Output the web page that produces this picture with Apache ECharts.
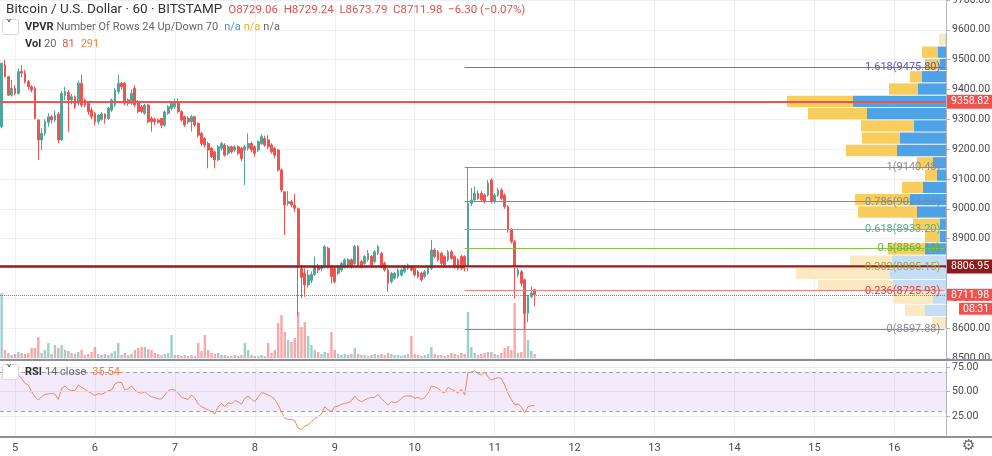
<!DOCTYPE html>
<html><head><meta charset="utf-8">
<script src="https://cdn.jsdelivr.net/npm/echarts@6/dist/echarts.min.js"></script>
<style>html,body{margin:0;padding:0;background:#fff}#c{width:992px;height:456px}</style>
</head><body><div id="c"></div>
<script>
// ---- time slots (hourly, starting 4th 20:00) ----
const startDay = 4, startHour = 20, totalSlots = 284;

// ---- OHLC (hourly) ----
const opens = [9275,9482,9443,9381,9404,9387,9460,9455,9426,9409,
9404,9298,9231,9253,9290,9309,9298,9318,9231,9380,
9390,9365,9376,9354,9421,9365,9354,9331,9320,9292,
9300,9318,9303,9331,9348,9393,9421,9421,9365,9354,
9404,9359,9342,9320,9348,9303,9300,9298,9303,9280,
9320,9337,9342,9354,9326,9309,9303,9292,9309,9286,
9253,9236,9219,9203,9191,9164,9203,9214,9186,9208,
9197,9208,9203,9197,9203,9219,9208,9197,9219,9236,
9231,9214,9203,9197,9130,9057,9018,9024,9013,9000,
8800,8784,8745,8760,8780,8806,8800,8806,8868,8806,
8801,8784,8795,8806,8806,8829,8817,8873,8823,8817,
8829,8840,8823,8851,8851,8817,8795,8756,8767,8773,
8778,8790,8801,8806,8801,8789,8784,8773,8784,8801,
8862,8856,8851,8840,8829,8856,8840,8829,8840,8840,
8806,9018,9030,9052,9052,9046,9046,9097,9024,9046,
9063,9046,9007,8929,8890,8778,8789,8762,8650,8706,
8729.06];
const closes = [9488,9443,9381,9404,9387,9460,9455,9426,9409,9398,
9303,9231,9253,9292,9309,9298,9314,9231,9387,9393,
9365,9376,9342,9421,9348,9348,9326,9309,9292,9314,
9318,9303,9337,9365,9398,9421,9409,9354,9354,9387,
9348,9326,9326,9348,9292,9292,9292,9290,9280,9325,
9342,9354,9354,9326,9298,9281,9292,9309,9281,9247,
9219,9214,9197,9175,9164,9208,9219,9180,9208,9191,
9208,9186,9169,9208,9219,9197,9186,9225,9242,9214,
9208,9191,9180,9130,9063,9013,9024,9013,9002,8812,
8770,8745,8778,8780,8806,8795,8806,8873,8806,8773,
8756,8806,8817,8829,8829,8806,8873,8812,8806,8840,
8851,8812,8856,8873,8806,8795,8750,8784,8784,8795,
8795,8806,8812,8795,8778,8773,8762,8789,8801,8862,
8840,8829,8817,8812,8856,8834,8806,8801,8801,8801,
9018,9030,9052,9035,9030,9024,9086,9024,9046,9063,
9035,9007,8929,8890,8806,8795,8750,8650,8706,8718.28,
8711.98];
const highs = [9490,9499,9445,9432,9415,9470,9482,9465,9432,9415,
9410,9300,9270,9300,9320,9314,9330,9325,9395,9409,
9398,9385,9380,9430,9449,9370,9360,9340,9325,9318,
9325,9320,9342,9370,9405,9449,9425,9425,9370,9400,
9415,9365,9348,9352,9352,9310,9305,9303,9305,9330,
9348,9360,9370,9370,9330,9312,9310,9315,9312,9290,
9258,9240,9225,9208,9195,9215,9225,9220,9214,9212,
9213,9213,9208,9215,9253,9225,9212,9230,9250,9245,
9247,9220,9208,9200,9135,9060,9060,9030,9050,9005,
8812,8800,8795,8790,8840,8815,8812,8879,8873,8812,
8806,8812,8823,8834,8835,8834,8879,8878,8829,8845,
8862,8845,8862,8879,8856,8823,8801,8789,8789,8800,
8800,8812,8817,8812,8806,8795,8789,8795,8806,8896,
8868,8862,8856,8845,8862,8862,8845,8834,8845,8845,
9140.48,9070,9075,9060,9060,9052,9097,9102,9052,9070,
9070,9052,9013,8935,8896,8812,8795,8767,8712,8740,
8729.24];
const lows = [9270,9440,9378,9376,9381,9383,9440,9420,9400,9390,
9300,9164,9197,9245,9275,9286,9290,9220,9228,9365,
9259,9350,9335,9345,9340,9340,9315,9300,9280,9283,
9295,9285,9298,9325,9342,9385,9400,9348,9345,9348,
9342,9320,9320,9315,9286,9259,9280,9285,9270,9275,
9315,9330,9335,9320,9292,9275,9285,9259,9275,9240,
9210,9205,9136,9170,9136,9160,9195,9175,9180,9185,
9190,9180,9160,9080,9195,9190,9175,9190,9215,9208,
9200,9185,9170,9125,9055,8912,9010,9005,8990,8640,
8700,8705,8735,8750,8775,8785,8790,8800,8800,8750,
8750,8778,8789,8800,8801,8800,8812,8806,8800,8812,
8823,8806,8817,8845,8801,8789,8722,8750,8762,8767,
8773,8784,8795,8790,8773,8767,8756,8767,8778,8795,
8834,8823,8812,8806,8823,8829,8800,8795,8795,8790,
8790,9010,9025,9030,9025,9018,9040,9018,9018,9040,
9030,9000,8920,8884,8700,8770,8740,8597.88,8620,8700,
8673.79];

// ---- volume (BTC) ----
const volumes = [1300,160,100,60,80,120,100,80,100,200,
200,420,100,160,300,80,260,200,260,160,
140,100,80,120,160,60,80,120,220,80,
60,80,60,100,140,300,60,100,60,80,
160,200,220,220,180,160,100,80,60,80,
100,460,60,60,40,60,40,60,40,300,
140,460,160,100,80,100,60,60,40,40,
60,40,60,300,160,60,40,40,60,40,
300,100,160,700,860,520,360,320,400,920,
620,720,440,260,160,120,80,120,100,520,
160,80,60,80,60,80,200,80,60,60,
40,60,80,60,80,60,100,80,60,60,
40,60,80,440,80,60,40,60,80,220,
80,60,60,40,60,100,80,60,100,80,
920,220,100,60,80,100,120,120,80,60,
100,200,240,160,1100,100,120,1000,360,140,
81];

// ---- RSI 14 ----
const rsi = [72.6,66.8,61.7,65.1,61.7,66.8,63.4,58.3,56.6,49.8,
44.7,41.3,44.7,47.1,47.4,48.1,47.4,42.0,53.2,55.6,
52.2,50.9,50.9,56.6,54.3,52.2,49.8,48.1,45.8,48.1,
47.1,48.8,50.9,51.5,57.7,59.7,59.0,51.5,52.9,55.6,
51.5,49.2,48.1,49.8,46.4,44.7,43.7,42.4,42.4,46.4,
50.9,52.2,51.5,48.1,44.0,43.0,42.0,46.4,43.0,37.3,
34.5,32.8,31.1,29.4,27.0,34.5,37.9,34.5,38.6,37.3,
40.7,39.6,36.9,43.0,45.4,42.0,39.6,44.7,48.8,48.1,
46.4,44.7,42.0,36.2,29.4,22.6,21.6,21.6,20.3,12.4,
11.4,14.8,15.8,19.2,22.6,24.3,27.0,34.5,31.1,29.4,
34.5,35.2,36.9,37.9,38.6,40.7,45.4,41.3,39.6,41.3,
43.0,44.0,44.0,47.1,42.4,39.6,36.2,39.6,38.6,39.6,
43.0,45.4,45.4,45.4,43.0,44.0,42.0,44.0,48.1,55.6,
54.9,53.2,49.8,48.8,54.3,52.2,50.9,48.1,52.2,46.4,
69.2,69.9,70.9,68.5,66.8,69.9,65.1,61.7,63.1,64.1,
63.4,56.6,48.1,42.0,36.2,37.3,34.5,28.4,34.5,35.5,
35.54];
const rsiTicks = [25, 50, 75];
const rsiBands = [30, 70];

// ---- price axis ----
const priceMin = 8500, priceMax = 9700, priceStep = 100;

// ---- fibonacci retracement ----
const fibStartSlot = 139;
const fibValues = [8597.88, 8725.93, 8805.15, 8869.18, 8933.20, 9024.36, 9140.48, 9475.80];
const fibNames  = ['0(8597.88)','0.236(8725.93)','0.382(8805.15)','0.5(8869.18)','0.618(8933.20)','0.786(9024.36)','1(9140.48)','1.618(9475.80)'];
const fibLineColors  = ['#8a8d96','#ef7f7b','#c9a23a','#8bc34a','#6cc08e','#4f97d6','#8a8d96','#6a6fd0'];
const fibLabelColors = ['#8a8d96','#e0403a','#a5a534','#6ab22e','#4cb487','#6a8fb5','#8a8d96','#5558c4'];

// ---- horizontal levels ----
const resistance = 9358.82, support = 8806.95, lastPrice = 8711.98, countdown = '08:31';

// ---- volume profile (24 rows, up / down volume) ----
const vpLow = 8597.88, vpHigh = 9587, vpRows = 24;
const vpUp   = [20,420,260,1060,1120,1080,420,120,120,580,720,460,180,260,980,920,640,1580,1860,560,480,120,160,20];
const vpDown = [260,400,800,1500,1880,840,740,300,540,1180,1100,420,240,320,1020,760,1060,1180,1320,580,240,300,320,120];
const vpOutside = [1,1,1,1,1,1,0,0,0,0,0,0,0,0,0,0,0,0,0,0,0,0,0,1];

// ---- colors ----
const UP = '#4fa79c', DOWN = '#ef5350';
const UPV = 'rgba(79,167,156,0.55)', DOWNV = 'rgba(239,83,80,0.5)';

const cats = [];
for (let i = 0; i < totalSlots; i++) {
  const h = (startHour + i) % 24, d = startDay + Math.floor((startHour + i) / 24);
  cats.push(d + '-' + (h < 10 ? '0' + h : h));
}
const isDayStart = (idx, v) => String(v).endsWith('-00');

const candleData = opens.map((o, i) => [o, closes[i], lows[i], highs[i]]);
const volData = volumes.map((v, i) => ({ value: v, itemStyle: { color: closes[i] >= opens[i] ? UPV : DOWNV } }));

const fibLines = fibValues.map((v, k) => [
  { coord: [fibStartSlot, v], lineStyle: { color: fibLineColors[k], width: 1, type: 'solid' },
    label: { show: true, formatter: fibNames[k], color: fibLabelColors[k], position: 'insideEndTop', distance: [4, -6], fontSize: 11, fontFamily: 'Roboto' } },
  { coord: [totalSlots - 1, v] }
]);

const tag = (bg) => ({ show: true, position: 'end', distance: 1, backgroundColor: bg, color: '#fff', fontSize: 10.5, fontFamily: 'Roboto', padding: [2, 4, 1, 4] });

const chart = echarts.init(document.getElementById('c'), null, { renderer: 'canvas' });
const font = 'Roboto';
chart.setOption({
  animation: false,
  backgroundColor: '#ffffff',
  grid: [
    { left: 0, right: 46, top: 0, height: 358, outerBoundsMode: 'none', containLabel: false },
    { left: 0, right: 46, top: 362, height: 75, outerBoundsMode: 'none', containLabel: false },
    { left: 746, right: 46, top: 0, height: 358, outerBoundsMode: 'none', containLabel: false }
  ],
  xAxis: [
    { type: 'category', data: cats, gridIndex: 0, boundaryGap: true,
      axisLine: { show: false }, axisTick: { show: false }, axisLabel: { show: false },
      splitLine: { show: true, interval: isDayStart, alignWithLabel: true, lineStyle: { color: '#eef0f4' } } },
    { type: 'category', data: cats, gridIndex: 1, boundaryGap: true,
      axisLine: { show: true, lineStyle: { color: '#8e9099', width: 2 } },
      axisTick: { show: false },
      axisLabel: { show: true, interval: isDayStart, formatter: v => String(v).split('-')[0], color: '#4a4a4a', fontSize: 11, fontFamily: font, margin: 6 },
      splitLine: { show: true, interval: isDayStart, alignWithLabel: true, lineStyle: { color: '#eef0f4' } } },
    { type: 'value', gridIndex: 2, inverse: true, min: 0, max: 4000, show: false }
  ],
  yAxis: [
    { type: 'value', gridIndex: 0, position: 'right', min: priceMin, max: priceMax, interval: priceStep,
      axisLine: { show: true, lineStyle: { color: '#b2b5be' } },
      axisTick: { show: true, length: 4, lineStyle: { color: '#b2b5be' } },
      axisLabel: { color: '#4a4a4a', fontSize: 10.5, fontFamily: font, margin: 6, formatter: v => v.toFixed(2) },
      splitLine: { show: true, lineStyle: { color: '#eef0f4' } } },
    { type: 'value', gridIndex: 0, min: 0, max: 7160, show: false },
    { type: 'value', gridIndex: 1, position: 'right', min: 3.57, max: 80.1,
      axisLine: { show: true, lineStyle: { color: '#b2b5be' } },
      axisTick: { show: true, length: 4, customValues: rsiTicks, lineStyle: { color: '#b2b5be' } },
      axisLabel: { color: '#4a4a4a', fontSize: 10.5, fontFamily: font, margin: 6, customValues: rsiTicks, formatter: v => v.toFixed(2) },
      splitLine: { show: false } },
    { type: 'value', gridIndex: 2, min: priceMin, max: priceMax, show: false }
  ],
  series: [
    { type: 'custom', xAxisIndex: 2, yAxisIndex: 3, z: 1, silent: true,
      data: vpUp.map((u, k) => [k, u, vpDown[k], vpOutside[k]]),
      renderItem: function (params, api) {
        const k = api.value(0), up = api.value(1), dn = api.value(2), out = api.value(3);
        const step = (vpHigh - vpLow) / vpRows;
        const lo = vpLow + k * step, hi = lo + step;
        const a = api.coord([0, hi]), b = api.coord([up, lo]), c = api.coord([up + dn, lo]);
        const h = b[1] - a[1] - 1;
        return { type: 'group', children: [
          { type: 'rect', shape: { x: b[0], y: a[1] + 0.5, width: a[0] - b[0], height: h }, style: { fill: out ? '#c3def5' : '#4ea3e6' } },
          { type: 'rect', shape: { x: c[0], y: a[1] + 0.5, width: b[0] - c[0], height: h }, style: { fill: out ? '#fbe9c4' : '#f8cd5e' } }
        ] };
      } },
    { type: 'bar', xAxisIndex: 0, yAxisIndex: 1, data: volData, barWidth: '72%', silent: true, z: 2 },
    { type: 'candlestick', xAxisIndex: 0, yAxisIndex: 0, data: candleData, barWidth: '70%', z: 3,
      itemStyle: { color: UP, color0: DOWN, borderColor: UP, borderColor0: DOWN, borderWidth: 1 },
      markLine: { silent: true, symbol: ['none', 'none'], z: 6, animation: false,
        data: [
          { yAxis: resistance, lineStyle: { color: '#ef5350', width: 2, type: 'solid' }, label: Object.assign(tag('#ef5350'), { formatter: resistance.toFixed(2) }) },
          { yAxis: support, lineStyle: { color: '#931c1c', width: 2.5, type: 'solid' }, label: Object.assign(tag('#8e1b1b'), { formatter: support.toFixed(2) }) },
          { yAxis: lastPrice, lineStyle: { color: '#ef5350', width: 1, type: 'dotted' },
            label: { show: true, position: 'end', distance: 1, fontFamily: 'Roboto', fontSize: 10.5,
              formatter: '{e|}\n{p|' + lastPrice.toFixed(2) + '}\n{t|' + countdown + '}',
              rich: {
                e: { height: 14, lineHeight: 14 },
                p: { backgroundColor: '#ef5350', color: '#fff', fontSize: 10.5, lineHeight: 14, padding: [1, 4, 0, 4] },
                t: { backgroundColor: '#ef5350', color: '#fff', fontSize: 10.5, lineHeight: 14, padding: [1, 4, 0, 4], align: 'right' }
              } } }
        ].concat(fibLines) } },
    { type: 'line', xAxisIndex: 1, yAxisIndex: 2, data: rsi, showSymbol: false, symbol: 'none',
      lineStyle: { color: '#ee8a5c', width: 1 }, z: 3, silent: true,
      markArea: { silent: true, itemStyle: { color: 'rgba(156,92,232,0.12)' }, data: [[{ yAxis: rsiBands[0] }, { yAxis: rsiBands[1] }]] },
      markLine: { silent: true, symbol: ['none', 'none'], label: { show: false },
        data: [
          { yAxis: rsiBands[1], lineStyle: { color: '#a3a3a8', type: [4, 3], width: 1 } },
          { yAxis: rsiBands[0], lineStyle: { color: '#a3a3a8', type: [4, 3], width: 1 } },
          { yAxis: rsiTicks[0], lineStyle: { color: '#ebe6f2', type: 'solid', width: 1 } },
          { yAxis: rsiTicks[1], lineStyle: { color: '#e2d6f2', type: 'solid', width: 1 } },
          { yAxis: rsiTicks[2], lineStyle: { color: '#ebe6f2', type: 'solid', width: 1 } }
        ] } }
  ],
  graphic: [
    { type: 'rect', z: 50, shape: { x: 0, y: 359, width: 992, height: 2 }, style: { fill: '#8e9099' } },
    { type: 'rect', z: 50, shape: { x: 946, y: 436, width: 46, height: 2 }, style: { fill: '#8e9099' } },
    { type: 'text', z: 60, left: 6, top: 3, style: { fontFamily: font,
      text: '{t|Bitcoin / U.S. Dollar · 60 · BITSTAMP}  {o|O8729.06  H8729.24  L8673.79  C8711.98  −6.30 (−0.07%)}',
      rich: { t: { fontSize: 13.5, fill: '#333333', fontFamily: font }, o: { fontSize: 11.5, fill: '#e2504c', fontFamily: font } } } },
    { type: 'rect', z: 60, shape: { x: 2.5, y: 19.5, width: 16, height: 15, r: 2 }, style: { fill: '#fff', stroke: '#d6d8de' } },
    { type: 'text', z: 61, left: 6, top: 20, style: { text: '˅', fontSize: 12, fill: '#444', fontFamily: 'DejaVu Sans' } },
    { type: 'text', z: 60, left: 25, top: 21, style: { fontFamily: font,
      text: '{b|VPVR} {g|Number Of Rows 24 Up/Down 70}  {u|n/a} {y|n/a} {g|n/a}',
      rich: { b: { fontSize: 11, fill: '#333', fontWeight: 'bold', fontFamily: font }, g: { fontSize: 11, fill: '#666', fontFamily: font },
              u: { fontSize: 11, fill: '#3d8fe0', fontFamily: font }, y: { fontSize: 11, fill: '#e6b020', fontFamily: font } } } },
    { type: 'text', z: 60, left: 25, top: 38, style: { fontFamily: font,
      text: '{b|Vol} {g|20}  {r|81}  {o|291}',
      rich: { b: { fontSize: 11, fill: '#333', fontWeight: 'bold', fontFamily: font }, g: { fontSize: 11, fill: '#666', fontFamily: font },
              r: { fontSize: 11, fill: '#e2504c', fontFamily: font }, o: { fontSize: 11, fill: '#f0883e', fontFamily: font } } } },
    { type: 'rect', z: 60, shape: { x: 2.5, y: 364.5, width: 16, height: 15, r: 2 }, style: { fill: '#fff', stroke: '#d6d8de' } },
    { type: 'text', z: 61, left: 6, top: 365, style: { text: '˅', fontSize: 12, fill: '#444', fontFamily: 'DejaVu Sans' } },
    { type: 'text', z: 60, left: 25, top: 366, style: { fontFamily: font,
      text: '{b|RSI} {g|14 close}  {o|35.54}',
      rich: { b: { fontSize: 11, fill: '#333', fontWeight: 'bold', fontFamily: font }, g: { fontSize: 11, fill: '#666', fontFamily: font },
              o: { fontSize: 11, fill: '#ee7f4c', fontFamily: font } } } },
    { type: 'text', z: 60, left: 962, top: 439, style: { text: '⚙', fontSize: 15, fill: '#666', fontFamily: 'DejaVu Sans' } }
  ]
});
</script></body></html>
